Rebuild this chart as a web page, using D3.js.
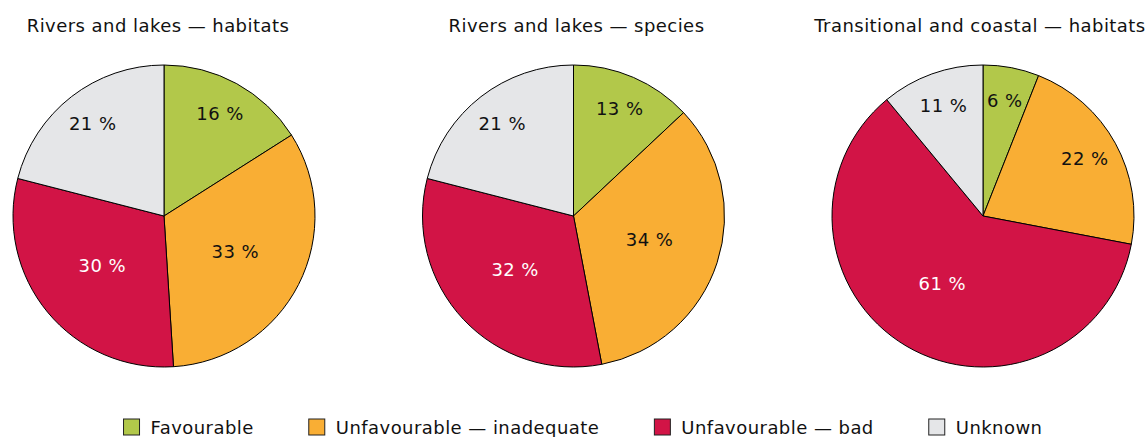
<!DOCTYPE html>
<html>
<head>
<meta charset="utf-8">
<script src="https://cdn.jsdelivr.net/npm/d3@7"></script>
<style>
  html, body { margin: 0; padding: 0; background: #fff; }
  svg { display: block; font-family: "DejaVu Sans", Verdana, sans-serif; letter-spacing: 0.45px; }
</style>
</head>
<body>
<svg id="chart" width="1148" height="437"></svg>
<script>
// Conservation status categories, in drawing order (clockwise from 12 o'clock)
const categories = ["Favourable", "Unfavourable — inadequate", "Unfavourable — bad", "Unknown"];
const categoryColors = ["#b2c84a", "#f9ae34", "#d21446", "#e5e6e8"];
const labelColors = ["#111", "#111", "#fff", "#111"];

// Panel titles
const titles = ["Rivers and lakes — habitats", "Rivers and lakes — species", "Transitional and coastal — habitats"];

// Share of assessments (%) per category, one array per panel
const riversHabitats = [16, 33, 30, 21];
const riversSpecies = [13, 34, 32, 21];
const coastalHabitats = [6, 22, 61, 11];

const panels = [riversHabitats, riversSpecies, coastalHabitats];

const width = 1148, height = 437;
const svg = d3.select("#chart");

const radius = 151;
const cy = 216;
const centers = d3.scalePoint().domain(d3.range(panels.length)).range([164, 983]);

const pie = d3.pie().sort(null).value(d => d);
const arc = d3.arc().innerRadius(0).outerRadius(radius);

panels.forEach((values, i) => {
  const g = svg.append("g").attr("transform", `translate(${centers(i)},${cy})`);
  const arcs = pie(values);

  g.selectAll("path")
    .data(arcs)
    .join("path")
    .attr("d", arc)
    .attr("fill", (d, j) => categoryColors[j])
    .attr("stroke", "#000")
    .attr("stroke-width", 1)
    .attr("stroke-linejoin", "round");

  // small slices carry their label nearer the rim, larger ones nearer the centre
  g.selectAll("text.val")
    .data(arcs)
    .join("text")
    .attr("class", "val")
    .attr("transform", d => {
      const r = d.value < 25 ? radius * 0.77 : radius * 0.53;
      const a = (d.startAngle + d.endAngle) / 2;
      return `translate(${Math.sin(a) * r},${-Math.cos(a) * r})`;
    })
    .attr("text-anchor", "middle")
    .attr("dy", "0.3em")
    .attr("font-size", 18)
    .attr("fill", (d, j) => labelColors[j])
    .text(d => `${d.value} %`);

  svg.append("text")
    .attr("x", centers(i) - 6 + (i === 2 ? 3 : i === 1 ? 9 : 0))
    .attr("y", 32)
    .attr("text-anchor", "middle")
    .attr("font-size", 18)
    .attr("fill", "#111")
    .text(titles[i]);
});

// Legend row along the bottom, centred as a group
const legend = svg.append("g");
const items = legend.selectAll("g")
  .data(categories)
  .join("g");
items.append("rect")
  .attr("width", 16).attr("height", 16)
  .attr("y", -15)
  .attr("fill", (d, j) => categoryColors[j])
  .attr("stroke", "#222")
  .attr("stroke-width", 1);
items.append("text")
  .attr("x", 27)
  .attr("font-size", 18)
  .attr("fill", "#111")
  .text(d => d);

let xPos = 0;
const gap = 55;
items.each(function () {
  const w = this.getBBox().width;
  d3.select(this).attr("transform", `translate(${xPos},0)`);
  xPos += w + gap;
});
const total = xPos - gap;
legend.attr("transform", `translate(${583 - total / 2},${434})`);
</script>
</body>
</html>
